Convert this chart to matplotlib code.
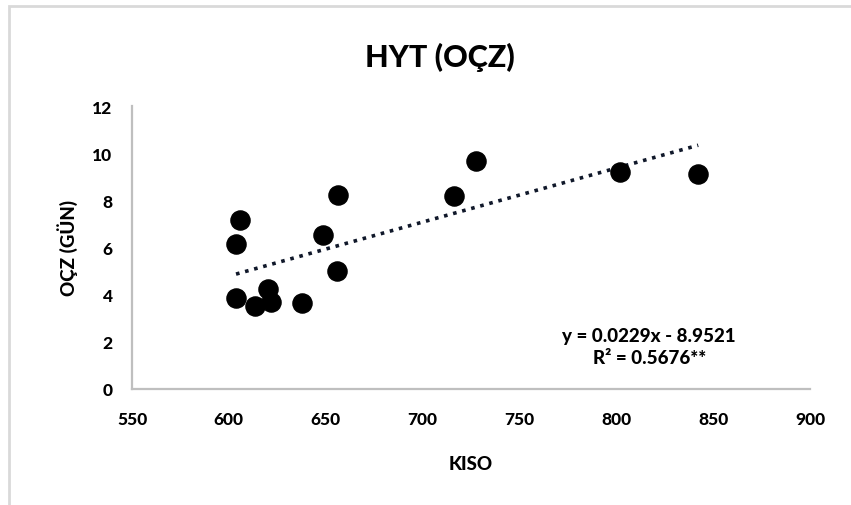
import numpy as np
import matplotlib.pyplot as plt
from matplotlib.patches import Rectangle

# KISO vs OCZ (days)
kiso = [603.7, 605.8, 603.7, 613.5, 620.4, 621.8, 637.6, 648.4, 655.7, 656.3, 716.4, 727.6, 802.0, 842.3]
ocz = [6.14, 7.17, 3.84, 3.53, 4.24, 3.67, 3.63, 6.54, 4.99, 8.22, 8.18, 9.65, 9.21, 9.11]

# trendline as reported on the chart
slope = 0.0229
intercept = -8.9521
eq_text = "y = 0.0229x - 8.9521\nR² = 0.5676**"

xticks = [550, 600, 650, 700, 750, 800, 850, 900]
yticks = [0, 2, 4, 6, 8, 10, 12]

plt.rcParams['font.family'] = ['Lato', 'DejaVu Sans']

fig = plt.figure(figsize=(8.51, 5.06), dpi=100)
ax = fig.add_axes([132/851, 1-390/506, (810-132)/851, (390-107)/506])

# chart frame (gray)
fig.patches.append(Rectangle((9/851, -0.1), 1.2, 1-7/506+0.1, transform=fig.transFigure,
                             fill=False, edgecolor='#d9d9d9', linewidth=2))

ax.scatter(kiso, ocz, s=190, color='black', zorder=3)

xs = np.array([min(kiso), max(kiso)])
ax.plot(xs, slope*xs + intercept, linestyle=(0, (1, 1.6)), color='#10182a', linewidth=2.6, zorder=2)

ax.set_xlim(550, 900)
ax.set_ylim(0, 12)
ax.set_xticks(xticks)
ax.set_yticks(yticks)
ax.tick_params(length=0, labelsize=12.5)
ax.tick_params(axis='x', pad=16)
ax.tick_params(axis='y', pad=14)
for lbl in ax.get_xticklabels() + ax.get_yticklabels():
    lbl.set_fontweight('black')

for s in ['top', 'right']:
    ax.spines[s].set_visible(False)
for s in ['left', 'bottom']:
    ax.spines[s].set_color('#bfbfbf')
    ax.spines[s].set_linewidth(1.6)

ax.set_xlabel('KISO', fontsize=13.5, fontweight='black', labelpad=20)
ax.set_ylabel('OÇZ (GÜN)', fontsize=13.5, fontweight='black', labelpad=10)
fig.text(440/851, 1-57/506, 'HYT (OÇZ)', fontsize=22, fontweight='black', ha='center', va='center')

ax.text(817, 1.8, eq_text, fontsize=13.5, fontweight='black', ha='center', va='center', linespacing=1.4)

fig.savefig('out.png', dpi=100)
